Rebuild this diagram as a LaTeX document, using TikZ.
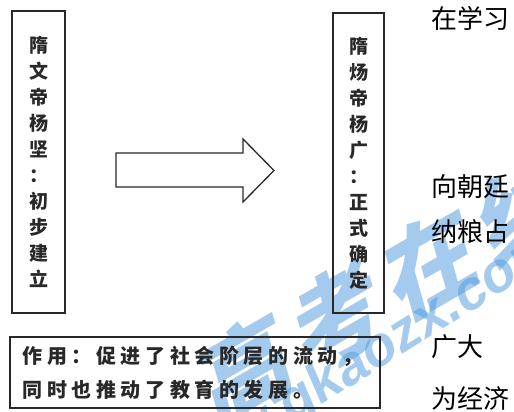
\documentclass[tikz,border=0pt]{standalone}
\usepackage{fontspec}
\newfontfamily\cjk{Noto Sans CJK SC}
\newfontfamily\cjkwide[LetterSpace=23]{Noto Sans CJK SC}
\newfontfamily\wmfont[FakeSlant=0.25,LetterSpace=12]{Noto Sans CJK SC}
\newfontfamily\wmlat[FakeSlant=0.15]{Liberation Sans}
\definecolor{wmblue}{RGB}{90,160,225}
\definecolor{ink}{RGB}{40,40,40}
\begin{document}
\begin{tikzpicture}[x=1pt,y=-1pt,
  box/.style={draw=ink,line width=1.3pt,inner sep=0pt,text=ink},
  vtext/.style={box,minimum width=53pt,minimum height=302pt,align=center,
    font=\cjk\bfseries\fontsize{19}{26}\selectfont},
  side/.style={anchor=west,inner sep=0pt,text=black,font=\cjk\fontsize{26}{28}\selectfont},
  wm/.style={text=wmblue,opacity=0.55,inner sep=0pt}]
\useasboundingbox (0,0) rectangle (514,412);
\fill[white] (0,0) rectangle (514,412);
% watermark
\node[wm,rotate=30,font=\wmfont\bfseries\fontsize{95}{97}\selectfont] (wmA) at (377,294) {高考在线};
\node[wm,rotate=32,font=\wmlat\bfseries\fontsize{56}{58}\selectfont] (wmB) at (357,366) {www.gkaozx.com};
% boxes
\node[vtext] (L) at (38.5,162) {隋\\文\\帝\\杨\\坚\\：\\初\\步\\建\\立};
\node[vtext,minimum width=51pt,minimum height=300pt] (R) at (358.5,163) {隋\\炀\\帝\\杨\\广\\：\\正\\式\\确\\定};
\node[box,minimum width=370pt,minimum height=71pt,align=left,text width=345pt,
  font=\cjkwide\bfseries\fontsize{20}{34}\selectfont] (B) at (195,372.5)
  {作用：促进了社会阶层的流动，\\同时也推动了教育的发展。};
% hollow arrow
\draw[draw=ink,line width=1.3pt,fill=white,line join=miter]
  (116,153) -- (243,153) -- (243,139) -- (274,170.5) -- (243,202) -- (243,187) -- (116,187) -- cycle;
% side text fragments
\node[side] (s1) at (431,18) {在学习};
\node[side] (s2) at (431,187) {向朝廷};
\node[side] (s3) at (431,232) {纳粮占};
\node[side] (s4) at (431,347) {广大};
\node[side] (s5) at (431,398) {为经济};
\end{tikzpicture}
\end{document}
